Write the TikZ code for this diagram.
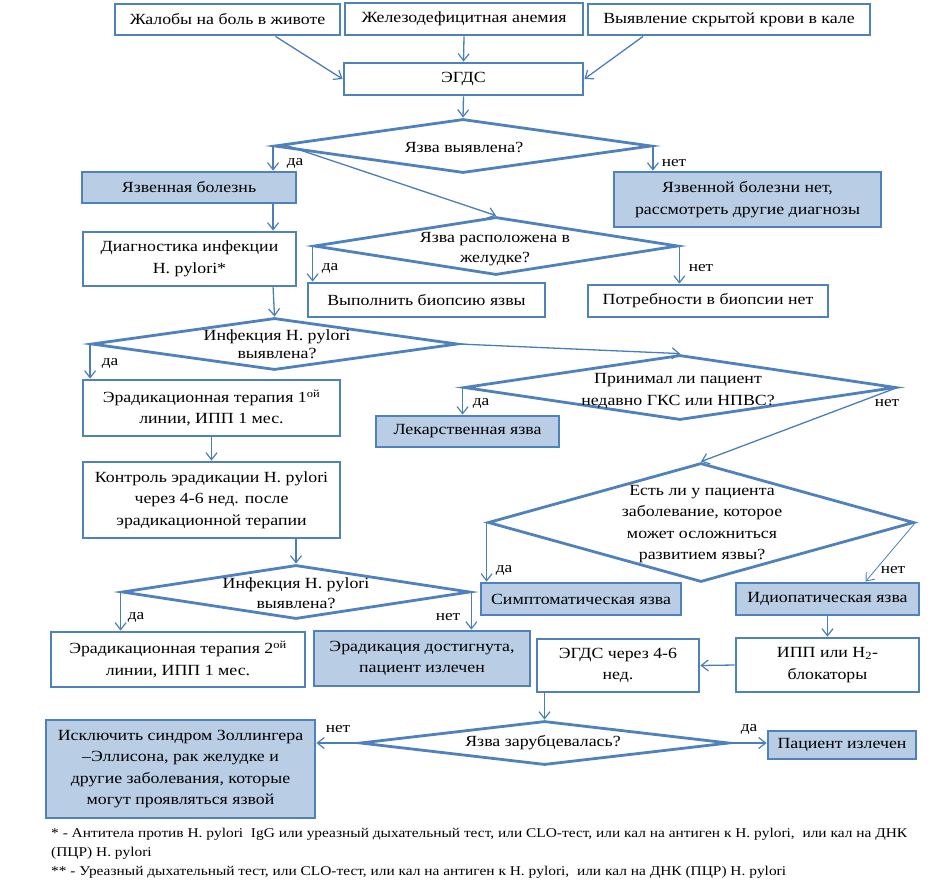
\documentclass[tikz,border=0pt]{standalone}
\usepackage{fontspec}
\setmainfont{Liberation Serif}[FakeStretch=1.15]
\newfontfamily\fnfont{Liberation Serif}[FakeStretch=1.15]
\usetikzlibrary{arrows.meta,shapes.geometric,calc}
\definecolor{bblue}{RGB}{79,129,189}
\definecolor{fblue}{RGB}{185,205,229}
\definecolor{ablue}{RGB}{74,126,187}
\begin{document}
\begin{tikzpicture}[x=1pt,y=-1pt,
  every node/.style={font=\fontsize{15.5}{21.5}\selectfont},
  box/.style={draw=bblue,line width=2.8pt,fill=white,align=center,inner sep=0pt},
  fbox/.style={box,fill=fblue},
  dia/.style={draw=bblue,line width=2.8pt,shape=diamond,inner sep=0pt},
  dtext/.style={align=center,inner sep=0pt},
  lbl/.style={inner sep=0pt,font=\fontsize{15}{18}\selectfont},
  arr/.style={draw=ablue,line width=1.3pt,-{Straight Barb[length=7pt,width=11pt,line width=1.2pt]}},
  thinarr/.style={draw=ablue,line width=0.8pt,-{Straight Barb[length=7pt,width=11pt,line width=0.9pt]}},
  fn/.style={anchor=base west,inner sep=0pt,font=\fnfont\fontsize{13.4}{15}\selectfont}]
\useasboundingbox (0,0) rectangle (933,881);

% top boxes
\node[box,minimum width=225,minimum height=31] (b1) at (227.5,19.5) {Жалобы на боль в животе};
\node[box,minimum width=238,minimum height=32] (b2) at (464,19) {Железодефицитная анемия};
\node[box,minimum width=282,minimum height=31] (b3) at (729,19.5) {Выявление скрытой крови в кале};
\node[box,minimum width=239,minimum height=32] (egds) at (463.5,79) {ЭГДС};

% diamond 1
\node[dia,minimum width=377,minimum height=54] (d1) at (463,146) {};
\node[dtext] (d1t) at (464,147) {Язва выявлена?};
\node[fbox,minimum width=214,minimum height=31] (yb) at (189,187.5) {Язвенная болезнь};
\node[fbox,minimum width=267,minimum height=55] (nyb) at (747.5,199.5) {Язвенной болезни нет,\\рассмотреть другие диагнозы};
\node[box,minimum width=213,minimum height=54] (diag) at (189.5,259) {Диагностика инфекции\\H. pylori*};

% diamond 2
\node[dia,minimum width=364,minimum height=58] (d2) at (496,246) {};
\node[dtext,font=\fontsize{15.5}{20}\selectfont] (d2t) at (495,249) {Язва расположена в\\желудке?};
\node[box,minimum width=237,minimum height=34] (biop) at (426.5,300) {Выполнить биопсию язвы};
\node[box,minimum width=240,minimum height=32] (nobiop) at (708,301) {Потребности в биопсии нет};

% diamond 3
\node[dia,minimum width=366,minimum height=52] (d3) at (274.5,344) {};
\node[dtext,font=\fontsize{15.5}{18.5}\selectfont] (d3t) at (277,344) {Инфекция H. pylori\\выявлена?};
\node[box,minimum width=257,minimum height=56] (er1) at (211.5,408) {Эрадикационная терапия 1\textsuperscript{ой}\\линии, ИПП 1 мес.};

% diamond 4
\node[dia,minimum width=432,minimum height=65] (d4) at (680,387.5) {};
\node[dtext] (d4t) at (678,391) {Принимал ли пациент\\недавно ГКС или НПВС?};
\node[fbox,minimum width=183,minimum height=31] (lek) at (467.5,431.5) {Лекарственная язва};

\node[box,minimum width=257,minimum height=76] (kontrol) at (211.5,500) {Контроль эрадикации H. pylori\\через 4-6 нед. после\\эрадикационной терапии};

% diamond 5
\node[dia,minimum width=426,minimum height=119] (d5) at (701,522.5) {};
\node[dtext] (d5t) at (702,524) {Есть ли у пациента\\заболевание, которое\\может осложниться\\развитием язвы?};
\node[fbox,minimum width=200,minimum height=32] (sympt) at (581,599) {Симптоматическая язва};
\node[fbox,minimum width=183,minimum height=32] (idio) at (827.5,599) {Идиопатическая язва};

% diamond 6
\node[dia,minimum width=348,minimum height=54] (d6) at (296,592) {};
\node[dtext,font=\fontsize{15.5}{19.5}\selectfont] (d6t) at (296,593) {Инфекция H. pylori\\выявлена?};
\node[box,minimum width=254,minimum height=55] (er2) at (178,659.5) {Эрадикационная терапия 2\textsuperscript{ой}\\линии, ИПП 1 мес.};
\node[fbox,minimum width=216,minimum height=55] (erdone) at (422,658.5) {Эрадикация достигнута,\\пациент излечен};
\node[box,minimum width=183,minimum height=54] (ipp) at (827.5,665) {ИПП или H\textsubscript{2}-\\блокаторы};
\node[box,minimum width=162,minimum height=53] (egds2) at (618,665.5) {ЭГДС через 4-6\\нед.};

% diamond 7
\node[dia,minimum width=369,minimum height=44] (d7) at (544.5,743) {};
\node[dtext] (d7t) at (543,743) {Язва зарубцевалась?};
\node[fbox,minimum width=269,minimum height=98] (iskl) at (180.5,769) {Исключить синдром Золлингера\\–Эллисона, рак желудке и\\другие заболевания, которые\\могут проявляться язвой};
\node[fbox,minimum width=148,minimum height=28] (cured) at (842,745) {Пациент излечен};

% connectors
\draw[arr] ([xshift=48]b1.south) -- (egds.west);
\draw[arr] (b2.south) -- (egds.north);
\draw[arr] ([xshift=-86]b3.south) -- (egds.east);
\draw[arr] (egds.south) -- (d1.north);
\draw[arr] (d1.west) -- (d1.west |- yb.north);
\draw[arr] (d1.east) -- (d1.east |- nyb.north);
\draw[arr] ([xshift=12,yshift=1]d1.west) -- (d2.north);
\draw[arr] (d1.west |- yb.south) -- (d1.west |- diag.north);
\draw[arr] (d2.west) -- (d2.west |- biop.north);
\draw[arr] (d2.east) -- (d2.east |- nobiop.north);
\draw[arr] (d1.west |- diag.south) -- (d3.north);
\draw[arr] (d3.west) -- (d3.west |- er1.north);
\draw[arr] (d3.east) -- (d4.north);
\draw[arr] (d4.west) -- (d4.west |- lek.north);
\draw[arr] (d4.east) -- (d5.north);
\draw[arr] (er1.south) -- (kontrol.north);
\draw[arr] (kontrol.south -| d6.north) -- (d6.north);
\draw[arr] (d5.west) -- (d5.west |- sympt.north);
\draw[thinarr] (d5.east) -- ([xshift=38]idio.north);
\draw[arr] (d6.west) -- (d6.west |- er2.north);
\draw[arr] (d6.east) -- (d6.east |- erdone.north);
\draw[arr] (idio.south) -- (ipp.north);
\draw[arr] (ipp.west) -- (egds2.east);
\draw[arr] (egds2.south -| d7.north) -- (d7.north);
\draw[arr] (d7.west) -- (d7.west -| iskl.east);
\draw[arr] (d7.east) -- (d7.east -| cured.west);

% labels
\node[lbl] (l1) at (295,163) {да};
\node[lbl] (l2) at (674,163) {нет};
\node[lbl] (l3) at (330,268) {да};
\node[lbl] (l4) at (701,268) {нет};
\node[lbl] (l5) at (110,363) {да};
\node[lbl] (l6) at (481,403) {да};
\node[lbl] (l7) at (887,403) {нет};
\node[lbl] (l8) at (504,570) {да};
\node[lbl] (l9) at (893,570) {нет};
\node[lbl] (l10) at (136,617) {да};
\node[lbl] (l11) at (448,617) {нет};
\node[lbl] (l12) at (338,729) {нет};
\node[lbl] (l13) at (749,729) {да};

% footnotes
\node[fn] (f1) at (51,837) {* - Антитела против H. pylori\ \ IgG\ или уреазный\ дыхательный тест, или CLO-тест, или кал на антиген к H. pylori,\ \ или кал на ДНК};
\node[fn] (f2) at (51,856) {(ПЦР) H. pylori};
\node[fn] (f3) at (51,875) {** - Уреазный дыхательный тест, или CLO-тест, или кал на антиген к H. pylori,\ \ или кал на ДНК (ПЦР) H. pylori};
\end{tikzpicture}
\end{document}
